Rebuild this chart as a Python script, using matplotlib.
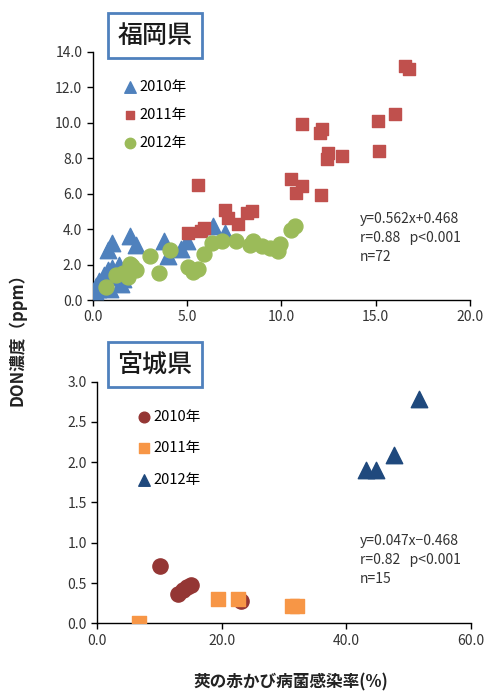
import matplotlib
matplotlib.use("Agg")
import matplotlib.pyplot as plt

plt.rcParams['font.family'] = ['Noto Sans CJK JP', 'DejaVu Sans']

# Fukuoka data (x: infection rate %, y: DON ppm)
fk_2010_x = [0.1, 0.3, 0.2, 0.35, 0.5, 0.6, 0.9, 0.8, 1.0, 0.8, 1.0, 1.2, 1.4, 1.5, 1.6,
             2.0, 2.3, 3.8, 4.0, 4.7, 5.0, 6.4, 7.0]
fk_2010_y = [0.5, 0.6, 0.8, 1.1, 0.7, 1.4, 0.6, 1.7, 1.8, 2.8, 3.2, 1.3, 2.0, 0.9, 1.2,
             3.6, 3.1, 3.3, 2.5, 2.9, 3.3, 4.2, 3.8]
fk_2011_x = [5.6, 5.05, 5.75, 5.9, 7.0, 7.15, 7.7, 8.2, 8.45, 10.5, 10.8, 11.1, 11.1,
             12.05, 12.15, 12.1, 12.5, 12.4, 13.2, 15.1, 15.2, 16.05, 16.55, 16.75]
fk_2011_y = [6.5, 3.8, 3.9, 4.05, 5.05, 4.65, 4.3, 4.9, 5.0, 6.8, 6.05, 6.45, 9.95,
             9.4, 9.65, 5.9, 8.3, 7.95, 8.1, 10.1, 8.4, 10.5, 13.2, 13.0]
fk_2012_x = [0.7, 1.25, 1.6, 1.85, 2.1, 2.3, 2.0, 3.05, 3.5, 4.1, 5.05, 5.3, 5.6, 5.9,
             6.3, 6.85, 7.6, 8.35, 8.5, 9.0, 9.4, 9.85, 9.95, 10.5, 10.7]
fk_2012_y = [0.75, 1.4, 1.5, 1.3, 1.9, 1.7, 2.05, 2.5, 1.55, 2.8, 1.85, 1.6, 1.75, 2.6,
             3.2, 3.35, 3.3, 3.1, 3.35, 3.05, 2.95, 2.75, 3.15, 3.95, 4.2]

# Miyagi data
mg_2010_x = [10.0, 13.0, 13.8, 14.35, 15.05, 23.0]
mg_2010_y = [0.71, 0.36, 0.41, 0.45, 0.47, 0.28]
mg_2011_x = [6.75, 19.4, 22.6, 31.3, 32.0]
mg_2011_y = [0.0, 0.30, 0.30, 0.21, 0.21]
mg_2012_x = [43.1, 44.7, 47.7, 51.65]
mg_2012_y = [1.9, 1.9, 2.09, 2.79]

labels = ['2010年', '2011年', '2012年']
tick_color = '#333333'


def style_axes(ax):
    for side in ['top', 'right']:
        ax.spines[side].set_visible(False)
    for side in ['left', 'bottom']:
        ax.spines[side].set_color('black')
        ax.spines[side].set_linewidth(1.0)
    ax.tick_params(direction='out', length=4, width=1, colors='black',
                   labelcolor=tick_color, labelsize=10)
    ax.xaxis.set_major_formatter(plt.FormatStrFormatter('%.1f'))
    ax.yaxis.set_major_formatter(plt.FormatStrFormatter('%.1f'))


fig = plt.figure(figsize=(4.84, 6.91), dpi=100)

# top panel: Fukuoka
ax1 = fig.add_axes([0.1915, 0.5658, 0.7795, 0.3594])
ax1.scatter(fk_2010_x, fk_2010_y, marker='^', s=140, color='#4F81BD', label=labels[0], zorder=3)
ax1.scatter(fk_2011_x, fk_2011_y, marker='s', s=80, color='#C0504D', label=labels[1], zorder=3)
ax1.scatter(fk_2012_x, fk_2012_y, marker='o', s=115, color='#9BBB59', label=labels[2], zorder=3)
ax1.set_xlim(0, 20)
ax1.set_ylim(0, 14)
ax1.set_xticks([0, 5, 10, 15, 20])
ax1.set_yticks(range(0, 15, 2))
style_axes(ax1)
ax1.legend(loc='upper left', bbox_to_anchor=(0.06, 0.915), frameon=False, fontsize=10.5,
           handlelength=1, handletextpad=0.15, labelspacing=0.95, borderpad=0,
           markerscale=0.7)
ax1.text(0.708, 0.355, 'y=0.562x+0.468\nr=0.88   p<0.001\nn=72', transform=ax1.transAxes,
         fontsize=10, va='top', ha='left', linespacing=1.45, color='#333333')

# bottom panel: Miyagi
ax2 = fig.add_axes([0.201, 0.098, 0.772, 0.3496])
ax2.scatter(mg_2010_x, mg_2010_y, marker='o', s=120, color='#943634', label=labels[0], zorder=3)
ax2.scatter(mg_2011_x, mg_2011_y, marker='s', s=100, color='#F79646', label=labels[1], zorder=3)
ax2.scatter(mg_2012_x, mg_2012_y, marker='^', s=140, color='#1F497D', label=labels[2], zorder=3)
ax2.set_xlim(0, 60)
ax2.set_ylim(0, 3)
ax2.set_xticks([0, 20, 40, 60])
ax2.set_yticks([0, 0.5, 1.0, 1.5, 2.0, 2.5, 3.0])
style_axes(ax2)
ax2.legend(loc='upper left', bbox_to_anchor=(0.085, 0.915), frameon=False, fontsize=10.5,
           handlelength=1, handletextpad=0.15, labelspacing=1.2, borderpad=0,
           markerscale=0.7)
ax2.text(0.703, 0.37, 'y=0.047x\u22120.468\nr=0.82   p<0.001\nn=15', transform=ax2.transAxes,
         fontsize=10, va='top', ha='left', linespacing=1.45, color='#333333')

# prefecture boxes
box = dict(boxstyle='square,pad=0.38', facecolor='white', edgecolor='#4F81BD', linewidth=2)
fig.text(0.320, 0.948, '福岡県', fontsize=18, fontweight='medium', ha='center', va='center',
         bbox=box, color='#1a1a1a')
fig.text(0.320, 0.472, '宮城県', fontsize=18, fontweight='medium', ha='center', va='center',
         bbox=box, color='#1a1a1a')

# axis titles
fig.text(0.035, 0.515, 'DON濃度（ppm）', rotation=90, ha='center', va='center',
         fontsize=12, fontweight='bold', color='#222222')
fig.text(0.60, 0.013, '莢の赤かび病菌感染率(%)', ha='center', va='center',
         fontsize=12, fontweight='bold', color='#222222')

fig.savefig('out.png', dpi=100)
